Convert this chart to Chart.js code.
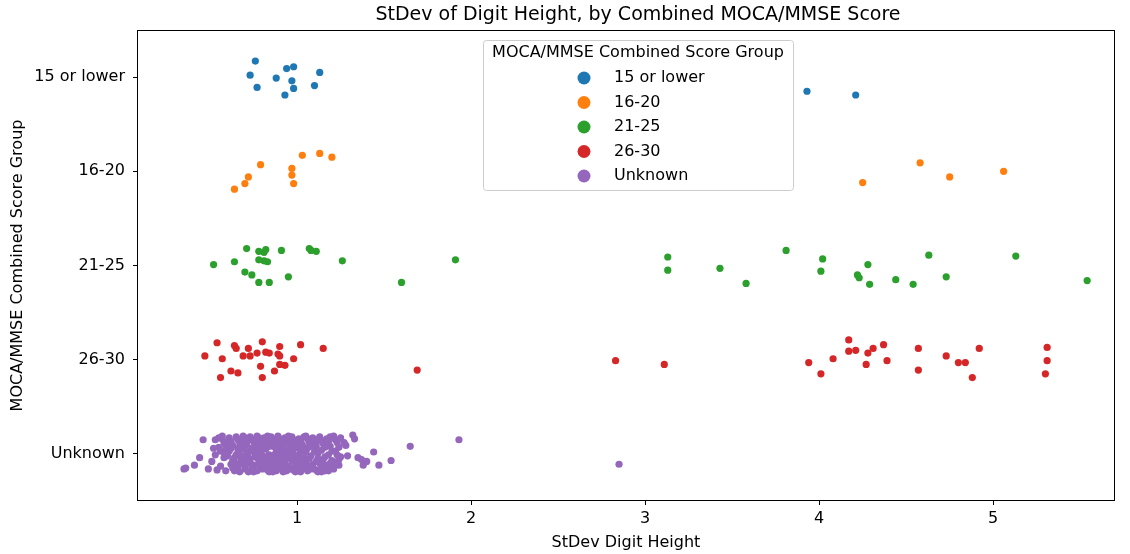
<!DOCTYPE html>
<html lang="en">
<head>
    <meta charset="UTF-8">
    <title>StDev of Digit Height</title>
    <style>
        html, body { margin: 0; padding: 0; background: #fff; }
        #wrap { width: 1130px; height: 554px; }
    </style>
</head>
<body>
    <div id="wrap"><canvas id="myChart" width="1130" height="554"></canvas></div>

    <script src="https://cdn.jsdelivr.net/npm/chart.js"></script>
    <script>
        // categories (top to bottom) and x ticks
        const groups = ['15 or lower', '16-20', '21-25', '26-30', 'Unknown'];
        const colors = ['#1f77b4', '#ff7f0e', '#2ca02c', '#d62728', '#9467bd'];
        const xTicks = [1, 2, 3, 4, 5];

        // [stdev digit height, vertical jitter]
        const score15 = [[0.76,-0.17],[0.73,-0.02],[0.77,0.11],[0.88,0.01],[0.94,-0.09],[0.98,-0.11],
            [0.97,0.04],[0.98,0.12],[0.93,0.19],[1.13,-0.05],[1.10,0.09],[3.93,0.15],[4.21,0.19]];

        const score16 = [[0.64,0.19],[0.70,0.13],[0.72,0.06],[0.79,-0.07],[0.97,-0.03],[0.97,0.04],
            [0.98,0.13],[1.03,-0.17],[1.13,-0.19],[1.20,-0.15],[4.25,0.12],[4.58,-0.09],[4.75,0.06],[5.06,0.00]];

        const score21 = [[0.52,-0.01],[0.64,-0.04],[0.71,-0.18],[0.78,-0.15],[0.82,-0.17],[0.81,-0.14],
            [0.91,-0.16],[1.07,-0.18],[1.08,-0.16],[1.11,-0.15],[0.78,-0.06],[0.81,-0.05],[0.83,-0.04],
            [0.70,0.07],[0.74,0.10],[0.78,0.18],[0.84,0.18],[0.95,0.12],[1.26,-0.05],[1.60,0.18],[1.91,-0.06],
            [3.13,-0.09],[3.13,0.05],[3.43,0.03],[3.58,0.19],[3.81,-0.16],[4.02,-0.07],[4.01,0.06],
            [4.22,0.10],[4.23,0.13],[4.28,-0.01],[4.29,0.20],[4.44,0.15],[4.54,0.20],[4.63,-0.11],
            [4.73,0.12],[5.13,-0.10],[5.54,0.16]];

        const score26 = [[0.47,-0.04],[0.54,-0.18],[0.57,-0.01],[0.56,0.19],[0.62,0.12],[0.66,0.14],
            [0.64,-0.15],[0.65,-0.12],[0.69,-0.04],[0.72,-0.12],[0.73,-0.04],[0.77,-0.07],[0.80,-0.19],
            [0.79,0.07],[0.80,0.19],[0.82,-0.08],[0.84,-0.07],[0.87,0.12],[0.90,-0.14],[0.89,-0.06],
            [0.90,-0.04],[0.90,0.05],[0.93,0.06],[0.98,-0.01],[1.02,-0.16],[1.15,-0.12],[1.69,0.11],
            [2.83,0.01],[3.11,0.05],[3.94,0.03],[4.01,0.15],[4.08,-0.01],[4.17,-0.21],[4.17,-0.09],
            [4.21,-0.10],[4.27,0.05],[4.28,-0.07],[4.31,-0.12],[4.37,-0.16],[4.39,0.01],[4.57,-0.12],
            [4.57,0.11],[4.73,-0.04],[4.80,0.03],[4.84,0.03],[4.88,0.19],[4.92,-0.12],[5.31,-0.13],
            [5.31,0.01],[5.30,0.15]];

        const scoreUnknown = [
            [0.61,-0.17],[0.63,-0.09],[0.60,0.02],[0.62,0.11],[0.64,0.18],[0.61,-0.03],[0.63,0.07],[0.62,-0.13],
            [0.65,-0.18],[0.67,-0.12],[0.66,-0.05],[0.65,0.01],[0.68,0.06],[0.66,0.13],[0.67,0.19],[0.64,0.09],[0.68,-0.15],[0.66,-0.01],
            [0.69,-0.19],[0.71,-0.14],[0.70,-0.08],[0.72,-0.02],[0.69,0.04],[0.71,0.10],[0.70,0.16],[0.72,0.19],[0.68,-0.11],[0.71,0.01],
            [0.73,-0.18],[0.75,-0.13],[0.74,-0.06],[0.76,0.00],[0.73,0.05],[0.75,0.12],[0.74,0.17],[0.76,-0.09],[0.73,0.09],[0.75,0.19],
            [0.77,-0.19],[0.79,-0.15],[0.78,-0.10],[0.77,-0.04],[0.80,0.02],[0.78,0.07],[0.79,0.14],[0.77,0.18],[0.80,-0.07],[0.78,0.11],[0.79,-0.01],
            [0.81,-0.17],[0.83,-0.12],[0.82,-0.05],[0.84,0.01],[0.81,0.06],[0.83,0.10],[0.82,0.15],[0.84,0.19],[0.81,-0.09],[0.83,-0.19],[0.82,0.03],
            [0.85,-0.18],[0.87,-0.14],[0.86,-0.08],[0.88,-0.02],[0.85,0.04],[0.87,0.09],[0.86,0.13],[0.88,0.18],[0.85,-0.11],[0.87,0.01],[0.86,0.19],
            [0.89,-0.19],[0.91,-0.13],[0.90,-0.06],[0.92,-0.01],[0.89,0.05],[0.91,0.11],[0.90,0.16],[0.92,0.19],[0.89,-0.09],[0.91,0.03],
            [0.93,-0.17],[0.95,-0.12],[0.94,-0.04],[0.96,0.02],[0.93,0.08],[0.95,0.13],[0.94,0.18],[0.96,-0.08],[0.93,0.00],[0.95,-0.19],
            [0.97,-0.18],[0.99,-0.11],[0.98,-0.05],[1.00,0.03],[0.97,0.07],[0.99,0.12],[0.98,0.17],[1.00,-0.14],[0.97,-0.01],[0.99,0.19],
            [1.01,-0.16],[1.03,-0.10],[1.02,-0.03],[1.04,0.04],[1.01,0.09],[1.03,0.15],[1.02,0.19],[1.04,-0.18],[1.01,0.01],
            [1.05,-0.19],[1.07,-0.12],[1.06,-0.06],[1.08,0.02],[1.05,0.08],[1.07,0.13],[1.06,0.18],[1.08,-0.15],
            [1.09,-0.17],[1.11,-0.09],[1.10,-0.02],[1.12,0.05],[1.09,0.11],[1.11,0.17],[1.10,-0.13],[1.12,0.19],
            [1.13,-0.18],[1.15,-0.11],[1.14,-0.04],[1.16,0.03],[1.13,0.10],[1.15,0.15],[1.14,0.19],
            [1.17,-0.16],[1.19,-0.08],[1.18,0.01],[1.20,0.07],[1.17,0.13],[1.19,-0.18],[1.18,0.18],
            [1.21,-0.19],[1.23,-0.12],[1.22,-0.03],[1.24,0.06],[1.21,0.16],[1.25,-0.17],[1.24,0.12],
            [0.57,-0.16],[0.59,-0.08],[0.58,0.04],[0.56,0.13],[0.59,0.18],[0.57,-0.19],[0.58,-0.02],
            [0.53,-0.15],[0.55,-0.07],[0.51,0.08],[0.54,0.17],
            [0.62,-0.06],[0.64,0.04],[0.63,0.15],[0.60,-0.12],
            [0.66,-0.15],[0.67,-0.08],[0.68,0.02],[0.65,0.16],[0.67,0.10],
            [0.70,-0.17],[0.69,-0.05],[0.72,0.07],[0.70,0.13],[0.71,-0.10],
            [0.74,-0.15],[0.73,-0.03],[0.76,0.03],[0.74,0.14],[0.76,-0.16],
            [0.78,-0.17],[0.80,-0.12],[0.77,0.04],[0.80,0.16],[0.79,0.09],
            [0.82,-0.14],[0.84,-0.08],[0.81,0.12],[0.84,0.07],[0.83,0.17],
            [0.86,-0.16],[0.88,-0.06],[0.85,0.08],[0.88,0.12],[0.87,-0.10],
            [0.90,-0.16],[0.92,-0.09],[0.90,0.08],[0.92,0.14],[0.91,-0.03],
            [0.94,-0.15],[0.96,-0.02],[0.94,0.05],[0.96,0.16],[0.93,0.12],
            [0.98,-0.15],[1.00,-0.07],[0.98,0.01],[1.00,0.10],[0.97,0.15],
            [1.02,-0.13],[1.04,-0.06],[1.03,0.07],[1.00,0.17],[1.04,0.12],
            [1.06,-0.16],[1.08,-0.09],[1.05,-0.02],[1.07,0.05],[1.08,0.16],
            [1.10,-0.06],[1.12,-0.15],[1.11,0.08],[1.09,0.14],[1.12,-0.01],
            [1.14,-0.14],[1.16,-0.07],[1.15,0.06],[1.16,0.12],[1.13,0.17],
            [1.18,-0.13],[1.20,-0.03],[1.19,0.10],[1.16,0.18],[1.20,0.15],
            [1.22,-0.15],[1.24,-0.07],[1.22,0.09],[1.25,0.03],
            [0.58,-0.12],[0.55,-0.17],[0.56,-0.03],[0.53,0.01],
            [0.35,0.16],[0.36,0.15],[0.41,0.12],[0.44,0.04],[0.49,0.16],[0.46,-0.15],[0.52,-0.06],
            [1.23,0.01],[1.27,-0.12],[1.28,-0.09],[1.29,0.02],[1.32,-0.20],[1.33,-0.16],[1.35,0.04],
            [1.37,0.06],[1.40,0.08],[1.38,0.12],[1.44,-0.02],[1.47,0.12],[1.54,0.07],[1.65,-0.08],
            [1.93,-0.15],[2.85,0.11]
        ];

        const seriesList = [score15, score16, score21, score26, scoreUnknown];

        const datasets = seriesList.map((pts, i) => ({
            label: groups[i],
            data: pts.map(p => ({ x: p[0], y: i + p[1] })),
            backgroundColor: colors[i],
            borderWidth: 0,
            pointRadius: 3.6,
            pointHoverRadius: 3.6
        }));

        const font = '"DejaVu Sans", sans-serif';

        // spines, title and the legend box inside the axes
        const decor = {
            id: 'decor',
            afterDraw(chart) {
                const { ctx, chartArea: a } = chart;
                ctx.save();
                ctx.strokeStyle = '#000';
                ctx.lineWidth = 1;
                ctx.strokeRect(Math.round(a.left) + 0.5, Math.round(a.top) + 0.5,
                    Math.round(a.right - a.left) - 1, Math.round(a.bottom - a.top) - 1);

                ctx.fillStyle = '#000';
                ctx.textAlign = 'center';
                ctx.textBaseline = 'middle';
                ctx.font = '19px ' + font;
                ctx.fillText('StDev of Digit Height, by Combined MOCA/MMSE Score', 638, 15);

                // legend
                const lx = 483, ly = 40, lw = 310, lh = 150;
                ctx.fillStyle = 'rgba(255,255,255,0.8)';
                ctx.strokeStyle = '#cccccc';
                ctx.beginPath();
                ctx.roundRect(lx + 0.5, ly + 0.5, lw, lh, 3);
                ctx.fill();
                ctx.stroke();

                ctx.fillStyle = '#000';
                ctx.font = '16px ' + font;
                ctx.fillText('MOCA/MMSE Combined Score Group', lx + lw / 2, 53);
                ctx.textAlign = 'left';
                groups.forEach((g, i) => {
                    const y = 78 + i * 24.5;
                    ctx.fillStyle = colors[i];
                    ctx.beginPath();
                    ctx.arc(584, y, 6.5, 0, Math.PI * 2);
                    ctx.fill();
                    ctx.fillStyle = '#000';
                    ctx.fillText(g, 614, y);
                });
                ctx.restore();
            }
        };

        new Chart(document.getElementById('myChart'), {
            type: 'scatter',
            data: { datasets },
            options: {
                responsive: false,
                animation: false,
                events: [],
                layout: { padding: { left: 0, right: 15, top: 30, bottom: 0 } },
                plugins: {
                    legend: { display: false },
                    tooltip: { enabled: false }
                },
                scales: {
                    x: {
                        type: 'linear',
                        min: 0.08,
                        max: 5.70,
                        afterBuildTicks: s => { s.ticks = xTicks.map(v => ({ value: v })); },
                        afterFit: s => { s.height = 53; },
                        border: { display: false },
                        grid: { drawOnChartArea: false, drawTicks: true, tickLength: 4, tickColor: '#000', lineWidth: 1 },
                        ticks: { color: '#000', padding: 4, font: { family: font, size: 16 } },
                        title: { display: true, text: 'StDev Digit Height', color: '#000',
                            font: { family: font, size: 16 }, padding: { top: 0, bottom: 2 } }
                    },
                    y: {
                        type: 'linear',
                        reverse: true,
                        min: -0.5,
                        max: 4.5,
                        afterBuildTicks: s => { s.ticks = groups.map((g, i) => ({ value: i })); },
                        afterFit: s => { s.width = 137; },
                        border: { display: false },
                        grid: { drawOnChartArea: false, drawTicks: true, tickLength: 4, tickColor: '#000', lineWidth: 1 },
                        ticks: { color: '#000', padding: 8, font: { family: font, size: 16 },
                            callback: v => groups[v] },
                        title: { display: true, text: 'MOCA/MMSE Combined Score Group', color: '#000',
                            font: { family: font, size: 16 }, padding: { top: 8, bottom: 0 } }
                    }
                }
            },
            plugins: [decor]
        });
    </script>
</body>
</html>
